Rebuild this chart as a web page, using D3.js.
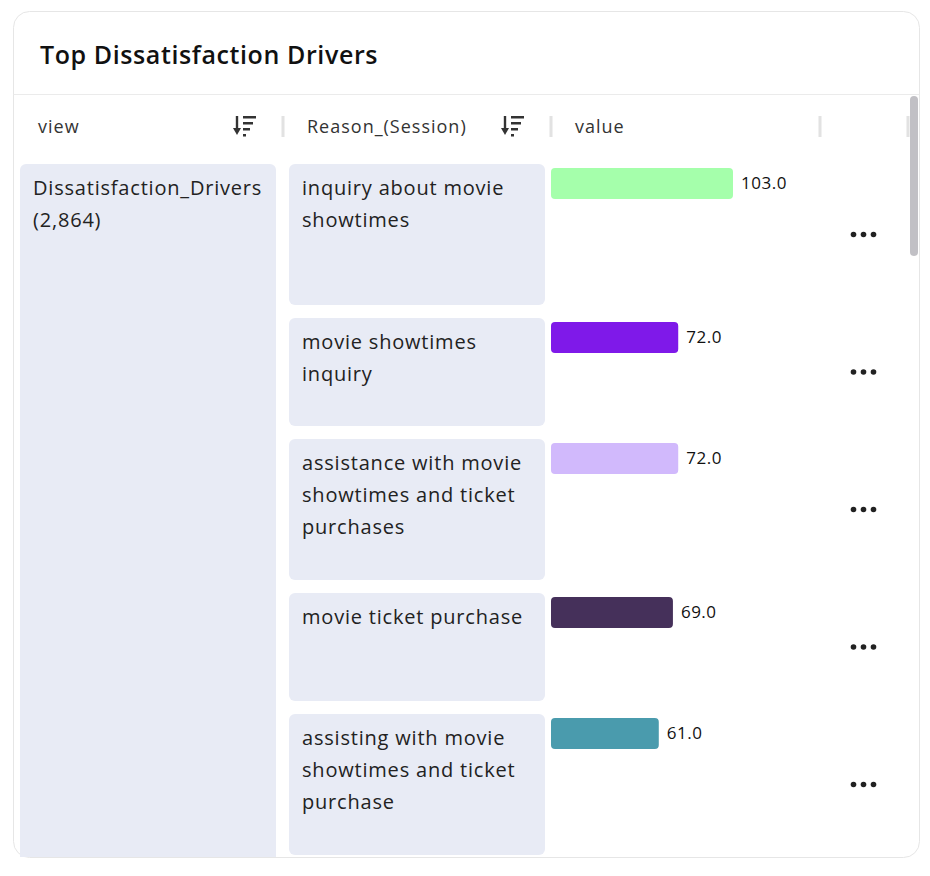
<!DOCTYPE html>
<html>
<head>
<meta charset="utf-8">
<script src="https://cdn.jsdelivr.net/npm/d3@7"></script>
<style>
  html, body { margin: 0; padding: 0; background: #ffffff; }
  svg { display: block; }
</style>
</head>
<body>
<svg id="chart" width="930" height="876"></svg>
<script>
// ---- data ----
const title = "Top Dissatisfaction Drivers";
const headers = ["view", "Reason_(Session)", "value"];
const viewLabel = ["Dissatisfaction_Drivers", "(2,864)"];
const reasons = [
  "inquiry about movie showtimes",
  "movie showtimes inquiry",
  "assistance with movie showtimes and ticket purchases",
  "movie ticket purchase",
  "assisting with movie showtimes and ticket purchase"
];
const values = [103.0, 72.0, 72.0, 69.0, 61.0];
const barColors = ["#a5ffab", "#7f19e9", "#d1b9fc", "#45305a", "#4a9bad"];

// ---- layout (not data) ----
const rowHeights = [141, 108, 141, 108, 141];
const rowGap = 13;

// ---- drawing ----
const svg = d3.select("#chart");
const FONT = "'Open Sans', sans-serif";
const card = {x: 13.5, y: 11.5, w: 906, h: 846, r: 16};

svg.append("defs").append("clipPath").attr("id", "cardClip")
  .append("rect").attr("x", card.x).attr("y", 95).attr("width", card.w).attr("height", card.y + card.h - 95 - 0.5);

svg.append("rect").attr("x", card.x).attr("y", card.y).attr("width", card.w).attr("height", card.h)
  .attr("rx", card.r).attr("fill", "#fff").attr("stroke", "#e6e6e6").attr("stroke-width", 1);

svg.append("text").attr("x", 40).attr("y", 64).text(title)
  .attr("font-family", FONT).attr("font-weight", 600).attr("font-size", 25)
  .attr("letter-spacing", 0.6).attr("fill", "#111");

svg.append("line").attr("x1", card.x).attr("x2", card.x + card.w).attr("y1", 94.5).attr("y2", 94.5)
  .attr("stroke", "#ebebeb");

// header
const headerY = 127;
const headerX = [38, 307, 575];
svg.selectAll("text.hdr").data(headers).join("text").attr("class", "hdr")
  .attr("x", (d, i) => headerX[i]).attr("y", headerY).attr("dy", "0.35em")
  .attr("font-family", FONT).attr("font-size", 18).attr("letter-spacing", 1)
  .attr("fill", "#333").text(d => d);

const seps = [283, 551, 820, 908];
svg.selectAll("rect.sep").data(seps).join("rect").attr("class", "sep")
  .attr("x", d => d - 1.5).attr("y", 116).attr("width", 3).attr("height", 21).attr("fill", "#e2e2e2");

function sortIcon(x, y) {
  const g = svg.append("g").attr("transform", `translate(${x},${y})`).attr("fill", "#333").attr("stroke", "#333");
  g.append("line").attr("x1", 3).attr("x2", 3).attr("y1", 0).attr("y2", 16).attr("stroke-width", 2.4);
  g.append("path").attr("d", "M-1,12 L3,19 L7,12 Z").attr("stroke", "none");
  g.append("rect").attr("x", 9).attr("y", 0).attr("width", 13).attr("height", 2.5).attr("stroke", "none");
  g.append("rect").attr("x", 9).attr("y", 6).attr("width", 10).attr("height", 2.5).attr("stroke", "none");
  g.append("rect").attr("x", 9).attr("y", 12).attr("width", 7).attr("height", 2.5).attr("stroke", "none");
  g.append("rect").attr("x", 9).attr("y", 18).attr("width", 3).attr("height", 2.5).attr("stroke", "none");
}
sortIcon(234, 116);
sortIcon(502, 116);

// body
const body = svg.append("g").attr("clip-path", "url(#cardClip)");
const CELL_FS = 20, CELL_LS = 0.8;

body.append("rect").attr("x", 20).attr("y", 164).attr("width", 256).attr("height", 720)
  .attr("rx", 6).attr("fill", "#e8ebf5");
body.selectAll("text.view").data(viewLabel).join("text").attr("class", "view")
  .attr("x", 33).attr("y", (d, i) => 195 + i * 32)
  .attr("font-family", FONT).attr("font-size", CELL_FS).attr("letter-spacing", CELL_LS)
  .attr("fill", "#222").text(d => d);

// wrap reason text
const measurer = svg.append("text").attr("font-family", FONT).attr("font-size", CELL_FS)
  .attr("letter-spacing", CELL_LS).attr("visibility", "hidden");
function wrap(str, maxW) {
  const words = str.split(" ");
  const lines = [];
  let cur = "";
  words.forEach(w => {
    const t = cur ? cur + " " + w : w;
    measurer.text(t);
    if (measurer.node().getComputedTextLength() > maxW && cur) { lines.push(cur); cur = w; }
    else cur = t;
  });
  if (cur) lines.push(cur);
  return lines;
}
const rows = [];
let yCur = 164;
reasons.forEach((r, i) => {
  const lines = wrap(r, 232);
  const h = rowHeights[i];
  rows.push({reason: r, lines, value: values[i], color: barColors[i], y: yCur, h});
  yCur += h + rowGap;
});
measurer.remove();

const x = d3.scaleLinear().domain([0, d3.max(values)]).range([0, 182]);
const bar0 = 551;

const rowG = body.selectAll("g.row").data(rows).join("g").attr("class", "row")
  .attr("transform", d => `translate(0,${d.y})`);

rowG.append("rect").attr("x", 289).attr("y", 0).attr("width", 256).attr("height", d => d.h)
  .attr("rx", 6).attr("fill", "#e8ebf5");
rowG.each(function(d) {
  d3.select(this).selectAll("text.reason").data(d.lines).join("text").attr("class", "reason")
    .attr("x", 302).attr("y", (l, i) => 31 + i * 32)
    .attr("font-family", FONT).attr("font-size", CELL_FS).attr("letter-spacing", CELL_LS)
    .attr("fill", "#222").text(l => l);
});
rowG.append("rect").attr("x", bar0).attr("y", 4).attr("width", d => x(d.value)).attr("height", 31)
  .attr("rx", 4).attr("fill", d => d.color);
rowG.append("text").attr("x", d => bar0 + x(d.value) + 8).attr("y", 19.5).attr("dy", "0.35em")
  .attr("font-family", FONT).attr("font-size", 17).attr("letter-spacing", 0.5)
  .attr("fill", "#111").text(d => d3.format(".1f")(d.value));
rowG.each(function(d) {
  d3.select(this).selectAll("circle.dot").data([853.5, 863.5, 873.5]).join("circle").attr("class", "dot")
    .attr("cx", c => c).attr("cy", d.h / 2).attr("r", 2.8).attr("fill", "#222");
});

// scrollbar
svg.append("rect").attr("x", 910).attr("y", 96).attr("width", 8).attr("height", 160).attr("rx", 4).attr("fill", "#c1c0c5");
</script>
</body>
</html>
